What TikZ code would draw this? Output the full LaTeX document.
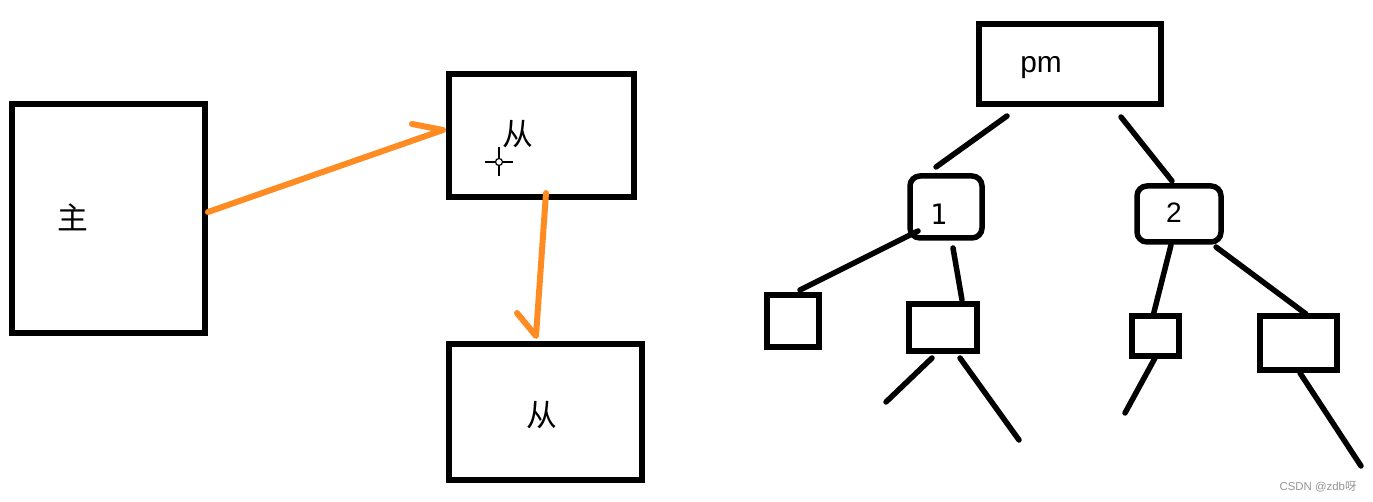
\documentclass[tikz,border=0pt]{standalone}
\usepackage{fontspec}
\setmainfont{Liberation Sans}
\newfontfamily\cjk{Noto Sans CJK SC}
\newfontfamily\monof{DejaVu Sans Mono}
\newdimen\pxu \pxu=0.02cm
\definecolor{orng}{RGB}{255,140,35}
\definecolor{wm}{RGB}{150,150,150}
\begin{document}
\begin{tikzpicture}[x=0.02cm,y=-0.02cm,
  box/.style={draw=black,line width=5.5\pxu,inner sep=0pt},
  rbox/.style={box,rounded corners=10\pxu},
  edge/.style={line width=5.5\pxu,line cap=round},
  oarrow/.style={draw=orng,line width=6\pxu,line cap=round,line join=round},
  cjklbl/.style={inner sep=0pt,font=\cjk\fontsize{17.5}{17.5}\selectfont}]
\useasboundingbox[fill=white] (0,0) rectangle (1373,502);
% left part
\node[box,minimum width=193\pxu,minimum height=229\pxu] (main) at (108.5,218.5) {};
\node[cjklbl] (maint) at (72.5,217.5) {主};
\node[box,minimum width=185\pxu,minimum height=123\pxu] (s1) at (541.5,135.5) {};
\node[cjklbl] (s1t) at (517.5,134) {从};
\node[box,minimum width=193\pxu,minimum height=136\pxu] (s2) at (545.5,412) {};
\node[cjklbl] (s2t) at (542,415) {从};
% crosshair cursor
\draw[line width=1.2\pxu] (499,162) circle (3.5);
\draw[line width=1.5\pxu] (485,162) -- (495,162) (503,162) -- (513,162)
  (499,147) -- (499,158) (499,166) -- (499,176);
% orange arrows
\coordinate (a1s) at (208,212);
\coordinate (a1e) at (443,130);
\coordinate (a1h) at (412,124);
\draw[oarrow] (a1s) -- (a1e) -- (a1h);
\coordinate (a2s) at (546,193);
\coordinate (a2e) at (536,336);
\coordinate (a2h) at (517,313);
\draw[oarrow] (a2s) -- (a2e) -- (a2h);
% tree
\node[box,minimum width=182\pxu,minimum height=80\pxu] (pm) at (1070,64) {};
\node[inner sep=0pt,anchor=base west,font=\fontsize{17}{17}\selectfont] (pmt) at (1020,73) {pm};
\node[rbox,minimum width=72\pxu,minimum height=62\pxu] (n1) at (946,207) {};
\node[inner sep=0pt,anchor=base,font=\monof\fontsize{16}{16}\selectfont] (n1t) at (938.5,225) {1};
\node[rbox,minimum width=84\pxu,minimum height=56\pxu] (n2) at (1179,214) {};
\node[inner sep=0pt,anchor=base,font=\fontsize{16}{16}\selectfont] (n2t) at (1174,223) {2};
\node[box,minimum width=52\pxu,minimum height=52\pxu] (la) at (793,321) {};
\node[box,minimum width=68\pxu,minimum height=47\pxu] (lb) at (943,327.5) {};
\node[box,minimum width=47\pxu,minimum height=40\pxu] (rc) at (1155.5,336) {};
\node[box,minimum width=77\pxu,minimum height=54\pxu] (rd) at (1298.5,343) {};
% tree edges (hand-drawn, with gaps)
\coordinate (e1a) at (1007,116); \coordinate (e1b) at (936,167);
\coordinate (e2a) at (1121,117); \coordinate (e2b) at (1172,181);
\coordinate (e3a) at (918,231);  \coordinate (e3b) at (800,290);
\coordinate (e4a) at (953,248);  \coordinate (e4b) at (962,300);
\coordinate (e5a) at (1171,245); \coordinate (e5b) at (1153,316);
\coordinate (e6a) at (1216,247); \coordinate (e6b) at (1306,314);
\coordinate (e7a) at (932,358);  \coordinate (e7b) at (886,402);
\coordinate (e8a) at (960,358);  \coordinate (e8b) at (1019,440);
\coordinate (e9a) at (1155,358); \coordinate (e9b) at (1125,413);
\coordinate (e10a) at (1300,373); \coordinate (e10b) at (1361,466);
\foreach \i in {1,...,10} \draw[edge] (e\i a) -- (e\i b);
% watermark
\node[inner sep=0pt,text=wm,font=\fontsize{6.5}{7}\selectfont] (wm) at (1318,487) {CSDN @zdb{\cjk 呀}};
\end{tikzpicture}
\end{document}
